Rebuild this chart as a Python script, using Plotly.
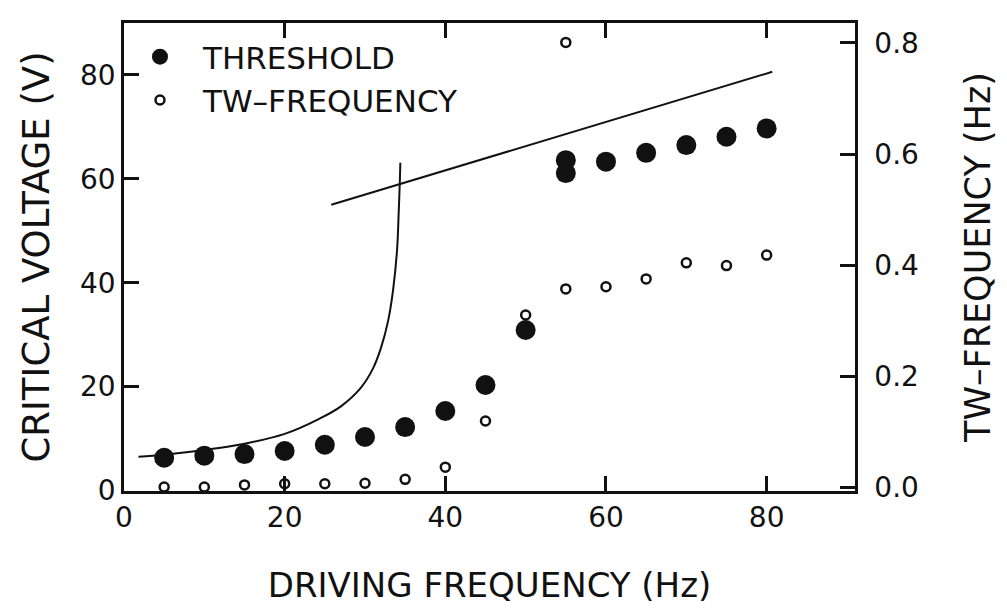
import plotly.graph_objects as go

# ---- data ----
drive_freq = [5, 10, 15, 20, 25, 30, 35, 40, 45, 50, 55, 55, 60, 65, 70, 75, 80]
threshold_v = [6.3, 6.7, 7.0, 7.6, 8.8, 10.3, 12.2, 15.3, 20.3, 30.9,
               63.6, 61.1, 63.3, 65.0, 66.5, 68.1, 69.7]

tw_x = [5, 10, 15, 20, 25, 30, 35, 40, 45, 50, 55, 55, 60, 65, 70, 75, 80]
tw_freq = [0.0, 0.0, 0.004, 0.006, 0.006, 0.007, 0.014, 0.036, 0.119, 0.310,
           0.357, 0.801, 0.361, 0.375, 0.404, 0.399, 0.418]

curve_x = [1.8, 5.0, 10.0, 15.0, 20.0, 24.3, 27.0, 29.5, 31.0, 32.0, 32.9, 33.5, 34.0, 34.2, 34.35, 34.4]
curve_y = [6.5, 6.9, 7.8, 9.0, 10.9, 13.8, 16.2, 19.8, 23.5, 27.5, 32.8, 38.6, 46.5, 53.7, 60.0, 63.1]

line_x = [25.8, 80.7]
line_y = [55.0, 80.6]

x_ticks = [0, 20, 40, 60, 80]
y_ticks = [0, 20, 40, 60, 80]
y2_ticks = [0.0, 0.2, 0.4, 0.6, 0.8]
y2_labels = ["0.0", "0.2", "0.4", "0.6", "0.8"]

FONT = "DejaVu Sans"
INK = "#111111"

fig = go.Figure()

fig.add_trace(go.Scatter(
    x=curve_x, y=curve_y, mode="lines",
    line=dict(color=INK, width=2, shape="spline", smoothing=1.0),
    showlegend=False, hoverinfo="skip"))
fig.add_trace(go.Scatter(
    x=line_x, y=line_y, mode="lines", line=dict(color=INK, width=2),
    showlegend=False, hoverinfo="skip"))

fig.add_trace(go.Scatter(
    x=drive_freq, y=threshold_v, mode="markers", name="THRESHOLD",
    marker=dict(symbol="circle", size=20, color=INK, line=dict(width=0))))

fig.add_trace(go.Scatter(
    x=tw_x, y=tw_freq, mode="markers", name="TW–FREQUENCY", yaxis="y2",
    marker=dict(symbol="circle-open", size=9, color=INK, line=dict(width=2.5, color=INK))))

def axis_style(**kw):
    d = dict(
        showline=True, linecolor=INK, linewidth=2.5, ticks="inside", ticklen=15,
        tickwidth=2.5, tickcolor=INK, showgrid=False, zeroline=False, automargin=False,
        tickfont=dict(family=FONT, size=28, color=INK),
    )
    d.update(kw)
    return d

fig.update_layout(
    template="none",
    width=1007, height=609,
    margin=dict(l=124, r=152, t=23, b=118),
    paper_bgcolor="white", plot_bgcolor="white",
    font=dict(family=FONT, color=INK),
    xaxis=axis_style(
        range=[0, 91], tickvals=x_ticks, mirror="ticks",
        title=dict(text="DRIVING FREQUENCY (Hz)", font=dict(family=FONT, size=34, color=INK), standoff=40),
    ),
    yaxis=axis_style(
        range=[-0.1, 90], tickvals=y_ticks, mirror=False,
        title=dict(text="CRITICAL VOLTAGE (V)", font=dict(family=FONT, size=37, color=INK), standoff=20),
    ),
    yaxis2=axis_style(
        overlaying="y", side="right", anchor="x", range=[-0.007, 0.836],
        tickvals=y2_ticks, ticktext=y2_labels, ticklabelstandoff=11,
        title=dict(text="TW–FREQUENCY (Hz)", font=dict(family=FONT, size=35, color=INK), standoff=48),
    ),
    legend=dict(
        x=-0.0096, y=0.985, xanchor="left", yanchor="top",
        bgcolor="rgba(0,0,0,0)", borderwidth=0,
        font=dict(family=FONT, size=31, color=INK),
        itemsizing="trace", itemwidth=76, tracegroupgap=0,
    ),
)

fig.write_html("out.html", config={"displayModeBar": False},
               post_script="document.body.style.margin='0px';")
